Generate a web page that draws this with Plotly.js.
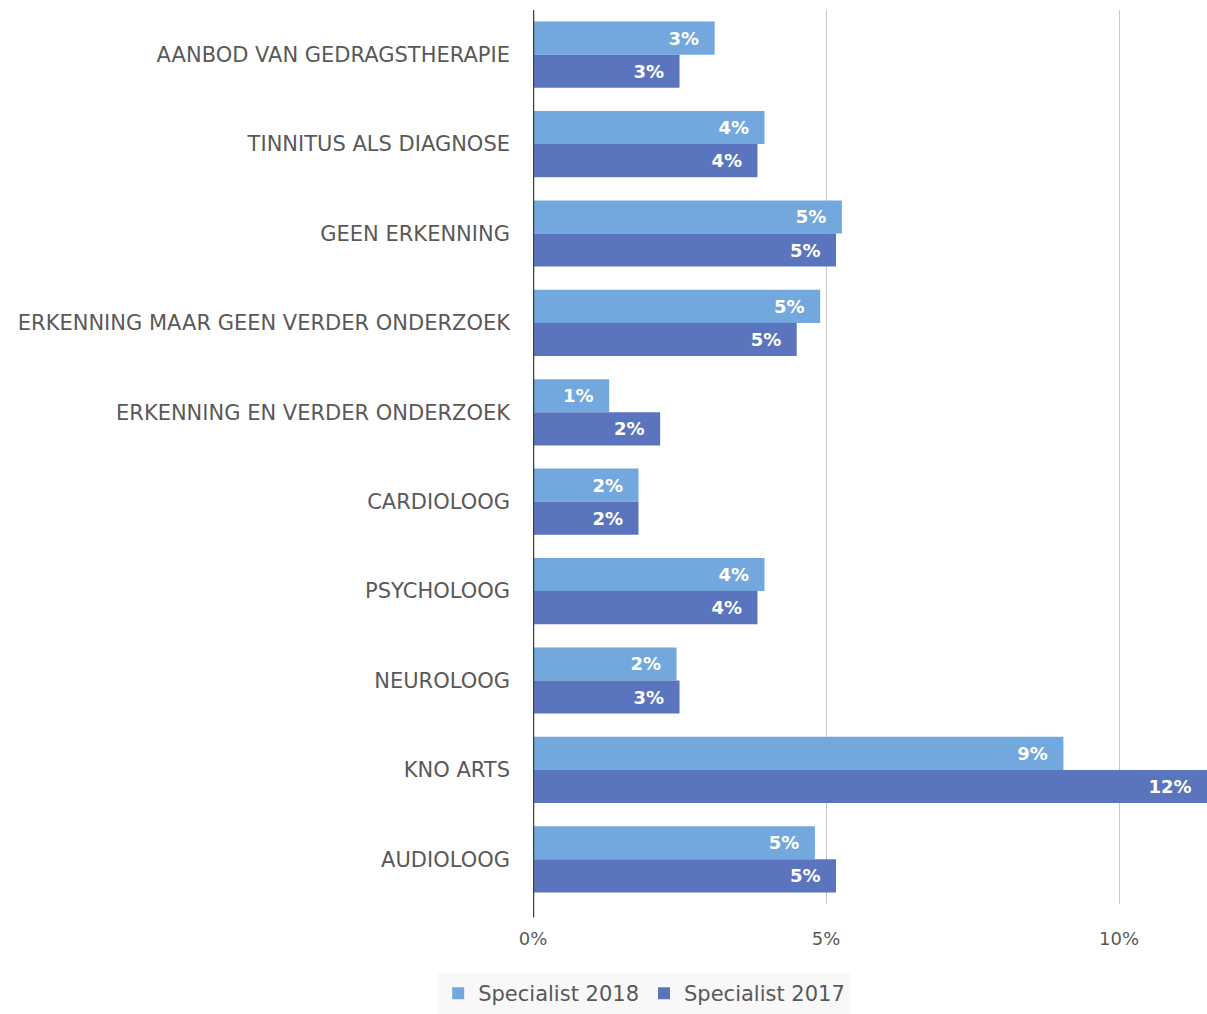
<!DOCTYPE html>
<html>
<head>
<meta charset="utf-8">
<script src="https://cdn.plot.ly/plotly-3.0.1.min.js"></script>
<style>html,body{margin:0;padding:0;background:#fff;}#chart{width:1207px;height:1014px;}</style>
</head>
<body>
<div id="chart"></div>
<script>
var categories = ["AANBOD VAN GEDRAGSTHERAPIE","TINNITUS ALS DIAGNOSE","GEEN ERKENNING","ERKENNING MAAR GEEN VERDER ONDERZOEK","ERKENNING EN VERDER ONDERZOEK","CARDIOLOOG","PSYCHOLOOG","NEUROLOOG","KNO ARTS","AUDIOLOOG"];
var specialist2018 = [0.031, 0.0395, 0.0527, 0.049, 0.013, 0.018, 0.0395, 0.0245, 0.0905, 0.0481];
var specialist2017 = [0.025, 0.0383, 0.0517, 0.045, 0.0217, 0.018, 0.0383, 0.025, 0.115, 0.0517];
var tickVals = [0, 0.05, 0.10];
var tickText = ["0%", "5%", "10%"];

var common = {
  type: 'bar', orientation: 'h', y: categories,
  texttemplate: '%{x:.0%}\u00a0\u00a0', textposition: 'inside', insidetextanchor: 'end',
  textangle: 0, constraintext: 'none',
  insidetextfont: {family: 'DejaVu Sans, sans-serif', size: 18, color: '#ffffff', weight: 'bold'},
  hoverinfo: 'none'
};
var t1 = Object.assign({}, common, {name: 'Specialist 2018', x: specialist2018, marker: {color: '#72a8dd'}});
var t2 = Object.assign({}, common, {name: 'Specialist 2017', x: specialist2017, marker: {color: '#5b74be'}});

var layout = {
  width: 1207, height: 1014,
  margin: {l: 533, r: 0, t: 10, b: 109},
  paper_bgcolor: '#ffffff', plot_bgcolor: '#ffffff',
  barmode: 'group', bargap: 0.26, bargroupgap: 0,
  font: {family: 'DejaVu Sans, sans-serif', color: '#595959'},
  xaxis: {
    range: [0, 0.115], tickvals: tickVals, ticktext: tickText,
    showgrid: true, gridcolor: '#c8c8c8', gridwidth: 1,
    zeroline: false, showline: false,
    tickfont: {size: 18, color: '#595959'}, ticks: '', ticklen: 0,
    ticklabelstandoff: 22
  },
  yaxis: {
    autorange: 'reversed', showgrid: false, zeroline: false,
    showline: false, ticks: '', ticklabelstandoff: 22,
    tickfont: {size: 21, color: '#595959'}
  },
  shapes: [{type: 'line', xref: 'x', yref: 'paper', x0: 0, x1: 0, y0: -0.015, y1: 1, line: {color: '#404040', width: 2.5}}],
  legend: {
    orientation: 'h', x: 0.165, xanchor: 'center', xref: 'paper', y: -0.1, yanchor: 'middle',
    bgcolor: 'rgba(246,246,246,0.8)', font: {size: 21, color: '#595959'},
    traceorder: 'normal', itemwidth: 30
  },
  showlegend: true
};
Plotly.newPlot('chart', [t1, t2], layout, {displayModeBar: false, staticPlot: true});
</script>
</body>
</html>
